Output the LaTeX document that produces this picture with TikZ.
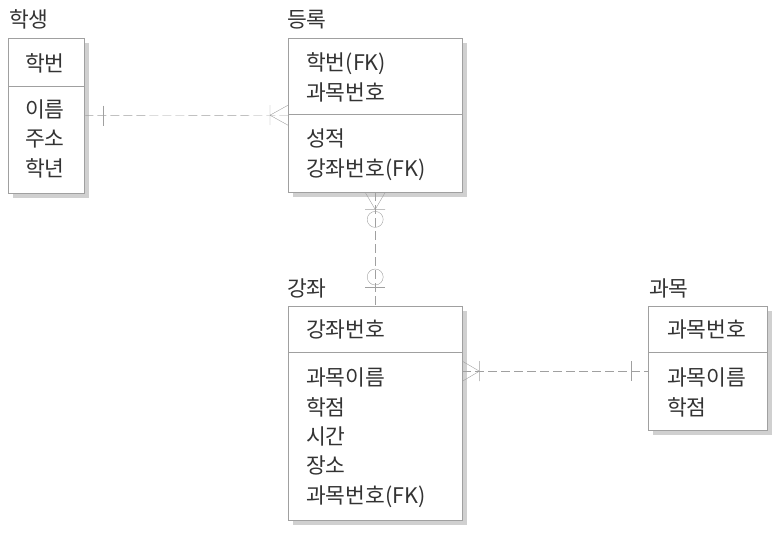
\documentclass[tikz,border=0pt]{standalone}
\usepackage{fontspec}
\setmainfont{Noto Sans CJK KR}
\usetikzlibrary{shadows}
\definecolor{linegray}{HTML}{A0A0A0}
\definecolor{shadegray}{HTML}{D0D0D0}
\definecolor{textgray}{HTML}{333333}
\newcommand\attrfont{\fontsize{21.5}{29.3}\selectfont\lineskiplimit-20pt\relax}

\begin{document}
\begin{tikzpicture}[x=1pt,y=-1pt,
  entity/.style={draw=linegray, fill=white, anchor=north west, inner sep=0pt,
    drop shadow={shadow xshift=5pt, shadow yshift=-5pt, fill=shadegray, opacity=1}},
  attr/.style={anchor=base west, inner sep=0pt, text=textgray, align=left,
    font=\attrfont},
  rel/.style={linegray, dash pattern=on 9pt off 4pt},
  foot/.style={linegray}]
\useasboundingbox (0,0) rectangle (780,536);
% entities
\node[entity, minimum width=76pt, minimum height=155pt] (student) at (8,38) {};
\node[entity, minimum width=174pt, minimum height=154pt] (enroll) at (288,38) {};
\node[entity, minimum width=174pt, minimum height=214pt] (lecture) at (288,306) {};
\node[entity, minimum width=119pt, minimum height=124pt] (course) at (648,306) {};
\draw[linegray] (student.west |- 0,86) -- (student.east |- 0,86);
\draw[linegray] (enroll.west |- 0,114) -- (enroll.east |- 0,114);
\draw[linegray] (lecture.west |- 0,352) -- (lecture.east |- 0,352);
\draw[linegray] (course.west |- 0,352) -- (course.east |- 0,352);
% titles (base = last line)
\node[attr] (student-t) at (9,27) {학생};
\node[attr] (enroll-t) at (287,27) {등록};
\node[attr] (lecture-t) at (287,296) {강좌};
\node[attr] (course-t) at (649,296) {과목};
% attributes
\node[attr] (student-k) at (25,71) {학번};
\node[attr] (student-a) at (25,176) {이름\\주소\\학년};
\node[attr] (enroll-k) at (306,100) {학번(FK)\\과목번호};
\node[attr] (enroll-a) at (306,176) {성적\\강좌번호(FK)};
\node[attr] (lecture-k) at (306,337) {강좌번호};
\node[attr] (lecture-a) at (306,503) {과목이름\\학점\\시간\\장소\\과목번호(FK)};
\node[attr] (course-k) at (667,337) {과목번호};
\node[attr] (course-a) at (667,415) {과목이름\\학점};
% student -- enroll
\draw[rel] (student.east) -- (enroll.west);
\draw[foot] ([xshift=19pt]student.east) ++(0,-10) -- ++(0,20);
\draw[foot] ([xshift=-18pt]enroll.west) -- ([yshift=10pt]enroll.west)
  ([xshift=-18pt]enroll.west) -- ([yshift=-10pt]enroll.west)
  ([xshift=-18pt]enroll.west) ++(0,-10) -- ++(0,20);
% enroll -- lecture
\draw[rel] (enroll.south) -- (lecture.north);
\draw[foot] ([yshift=-17pt]enroll.south) -- ([xshift=-10pt]enroll.south)
  ([yshift=-17pt]enroll.south) -- ([xshift=10pt]enroll.south)
  ([yshift=-17pt]enroll.south) ++(-10,0) -- ++(20,0);
\draw[foot] ([yshift=-27pt]enroll.south) circle (8pt);
\draw[foot] ([yshift=29pt]lecture.north) circle (8pt);
\draw[foot] ([yshift=19pt]lecture.north) ++(-10,0) -- ++(20,0);
% lecture -- course
\coordinate (course-in) at ([yshift=-3pt]course.west);
\coordinate (lecture-out) at (lecture.east |- course-in);
\draw[rel] (lecture-out) -- (course-in);
\draw[foot] ([xshift=17pt]lecture-out) -- ([yshift=10pt]lecture-out)
  ([xshift=17pt]lecture-out) -- ([yshift=-10pt]lecture-out)
  ([xshift=17pt]lecture-out) ++(0,-10) -- ++(0,20);
\draw[foot] ([xshift=-17pt]course-in) ++(0,-10) -- ++(0,20);
\end{tikzpicture}
\end{document}
